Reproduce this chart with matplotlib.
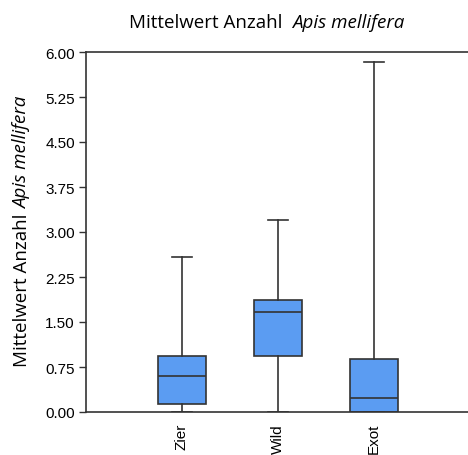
import matplotlib
matplotlib.use("Agg")
import matplotlib.pyplot as plt
import numpy as np

# values
groups = ["Zier", "Wild", "Exot"]
lows = [0.0, 0.0, 0.0]
q1s = [0.14, 0.94, 0.0]
medians = [0.595, 1.66, 0.24]
q3s = [0.94, 1.86, 0.88]
highs = [2.59, 3.20, 5.83]
yticks = [0.0, 0.75, 1.5, 2.25, 3.0, 3.75, 4.5, 5.25, 6.0]

box_color = "#5b9cf2"
edge = "#333333"

fig = plt.figure(figsize=(4.68, 4.56), dpi=100)
ax = fig.add_axes([86 / 468, 43 / 456, 384 / 468, 360 / 456])

stats = []
for g, lo, a, m, b, hi in zip(groups, lows, q1s, medians, q3s, highs):
    stats.append(dict(label=g, whislo=lo, q1=a, med=m, q3=b, whishi=hi, fliers=[]))

pos = np.arange(1, len(groups) + 1)
bp = ax.bxp(stats, positions=pos, widths=0.5, patch_artist=True, showfliers=False,
            boxprops=dict(facecolor=box_color, edgecolor=edge, linewidth=1.2),
            medianprops=dict(color=edge, linewidth=1.2),
            whiskerprops=dict(color=edge, linewidth=1.2),
            capprops=dict(color=edge, linewidth=1.2),
            capwidths=0.2)

ax.set_xlim(0, 4)
ax.set_ylim(0, 6)
ax.set_yticks(yticks)
ax.set_yticklabels(["%.2f" % v for v in yticks], fontfamily="Liberation Sans", fontsize=11)
ax.set_xticks(pos)
ax.set_xticklabels(groups, rotation=90, fontfamily="Liberation Sans", fontsize=11)
ax.tick_params(axis="x", length=0, pad=8)
ax.tick_params(axis="y", length=5, width=1.0, color=edge, pad=3)
for s in ax.spines.values():
    s.set_color(edge)
    s.set_linewidth(1.2)

# title and ylabel with italic species name
fig.canvas.draw()
r = fig.canvas.get_renderer()
tfs = 13.5
t1 = fig.text(0, 0, "Mittelwert Anzahl  ", fontfamily="Open Sans", fontsize=tfs)
t2 = fig.text(0, 0, "Apis mellifera", fontfamily="Open Sans", fontsize=tfs, style="italic")
w1 = t1.get_window_extent(r).width
w2 = t2.get_window_extent(r).width
x0 = 267 - (w1 + w2) / 2
t1.set_position((x0 / 468, 1 - 28 / 456))
t2.set_position(((x0 + w1) / 468, 1 - 28 / 456))

l1 = fig.text(0, 0, "Mittelwert Anzahl ", fontfamily="Open Sans", fontsize=tfs, rotation=90,
              va="bottom", ha="center")
l2 = fig.text(0, 0, "Apis mellifera", fontfamily="Open Sans", fontsize=tfs, rotation=90,
              style="italic", va="bottom", ha="center")
h1 = l1.get_window_extent(r).height
h2 = l2.get_window_extent(r).height
yc = 456 - 232
y0 = yc - (h1 + h2) / 2
l1.set_position((22 / 468, y0 / 456))
l2.set_position((22 / 468, (y0 + h1) / 456))

fig.savefig("out.png", dpi=100)
